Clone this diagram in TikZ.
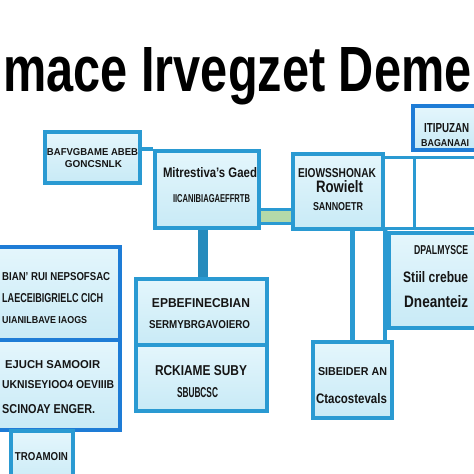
\documentclass[tikz,border=0pt]{standalone}
\usepackage{graphicx}
\usepackage{fontspec}
\setmainfont{Liberation Sans}
\definecolor{bline}{HTML}{2A9AD2}
\definecolor{bdark}{HTML}{1E7CD6}
\definecolor{ftop}{HTML}{E4F6FC}
\definecolor{fbot}{HTML}{C8EAF6}
\definecolor{bandg}{HTML}{B4D9A9}
\definecolor{ink}{HTML}{151515}
\newcommand\tx[3]{\resizebox{#1pt}{#2pt}{#3}}
\tikzset{
  box/.style={draw=bline, line width=3.5pt, top color=ftop, bottom color=fbot, inner sep=0pt},
  lbox/.style={box, draw=bdark, line width=4.5pt},
  wbox/.style={draw=bline, line width=3pt, fill=white, inner sep=0pt},
  lbl/.style={inner sep=0pt, text=ink, font=\bfseries, anchor=base},
  lblw/.style={lbl, anchor=base west},
  conn/.style={draw=bline, line width=4pt},
  thick conn/.style={draw=bline!90!black, line width=10pt},
}
\begin{document}
\begin{tikzpicture}[x=1pt,y=-1pt]
\useasboundingbox (0,0) rectangle (474,474);
\fill[white] (0,0) rectangle (474,474);
\clip (0,0) rectangle (474,474);

% title
\node[lbl, font=\bfseries, text=black] (title) at (237.5,91) {\tx{468}{44}{mace Irvegzet Deme}};

% boxes
\node[box, minimum width=95pt, minimum height=51pt] (A) at (92.5,157.5) {};
\node[box, minimum width=104pt, minimum height=77pt] (B) at (207,189.5) {};
\node[box, minimum width=90pt, minimum height=75pt] (D) at (338,191.5) {};
\node[box, draw=bdark, minimum width=69pt, minimum height=44pt] (E) at (447.5,128) {};
\node[wbox, minimum width=31pt, minimum height=71pt] (F1) at (398.5,192.5) {};
\node[wbox, minimum width=68pt, minimum height=71pt] (F2) at (448,192.5) {};
\node[box, minimum width=93pt, minimum height=95pt] (G) at (435.5,280.5) {};
\node[box, minimum width=79pt, minimum height=76pt] (H) at (352.5,380) {};
\node[box, minimum width=131pt, minimum height=66pt] (C1) at (201.5,312) {};
\node[box, minimum width=131pt, minimum height=66pt] (C2) at (201.5,378) {};
\node[lbox, minimum width=130pt, minimum height=93pt] (L1) at (55,293.5) {};
\node[lbox, minimum width=130pt, minimum height=90pt] (L2) at (55,385) {};
\node[box, draw=bline, minimum width=62pt, minimum height=59pt] (L3) at (42,460.5) {};

% connectors
\coordinate (bc) at (276,216.5);
\draw[conn] (A.east |- B.north west) -- (B.north west);
\draw[thick conn] (B.south) ++(-4,0) coordinate (bs) -- (bs |- C1.north);
\draw[draw=bline, line width=17pt] (B.east |- bc) -- (D.west |- bc);
\draw[draw=bandg, line width=11pt] (B.east |- bc) -- (D.west |- bc);
\draw[conn, line width=5pt] (H.north) -- (H.north |- D.south);
\draw[conn] (D.south east) -- (D.south east |- H.north);
\draw[conn] (D.south east) -- (G.north west);

% texts
\node[lbl] (tA1) at (92.5,155) {\tx{91}{7}{BAFVGBAME ABEB}};
\node[lbl] (tA2) at (93.5,167) {\tx{57}{7}{GONCSNLK}};
\node[lbl] (tB1) at (210,177) {\tx{94}{10}{Mitrestiva's Gaed}};
\node[lbl] (tB2) at (211.5,202) {\tx{77}{8}{IICANIBIAGAEFFRTB}};
\node[lbl] (tD1) at (337,177) {\tx{78}{9}{EIOWSSHONAK}};
\node[lbl] (tD2) at (339.5,192) {\tx{47}{12}{Rowielt}};
\node[lbl] (tD3) at (338,210) {\tx{50}{8}{SANNOETR}};
\node[lblw] (tE1) at (424,132) {\tx{45}{9}{ITIPUZAN}};
\node[lblw] (tE2) at (421,146) {\tx{48}{7}{BAGANAAI}};
\node[lblw] (tG1) at (414,254) {\tx{54}{9}{DPALMYSCE}};
\node[lblw] (tG2) at (403,282) {\tx{65}{11}{Stiil crebue}};
\node[lblw] (tG3) at (404,307) {\tx{64}{12}{Dneanteiz}};
\node[lbl] (tH1) at (352.5,375) {\tx{69}{8}{SIBEIDER AN}};
\node[lbl] (tH2) at (351.5,403) {\tx{71}{10}{Ctacostevals}};
\node[lbl] (tC1) at (201,307) {\tx{98}{9}{EPBEFINECBIAN}};
\node[lbl] (tC2) at (199.5,328) {\tx{101}{8}{SERMYBRGAVOIERO}};
\node[lbl] (tC3) at (201,375) {\tx{92}{10}{RCKIAME SUBY}};
\node[lbl] (tC4) at (197.5,397) {\tx{41}{10}{SBUBCSC}};
\node[lblw] (tL1) at (2,280) {\tx{108}{8}{BIAN' RUI NEPSOFSAC}};
\node[lblw] (tL2) at (2,302) {\tx{101}{9}{LAECEIBIGRIELC CICH}};
\node[lblw] (tL3) at (2,323) {\tx{85}{7}{UIANILBAVE IAOGS}};
\node[lblw] (tL4) at (5,368) {\tx{95}{8}{EJUCH SAMOOIR}};
\node[lblw] (tL5) at (2,388) {\tx{112}{8}{UKNISEYIOO4 OEVIIIB}};
\node[lblw] (tL6) at (2,413) {\tx{93}{9}{SCINOAY ENGER.}};
\node[lbl] (tL7) at (41.5,460) {\tx{53}{8}{TROAMOIN}};
\end{tikzpicture}
\end{document}
